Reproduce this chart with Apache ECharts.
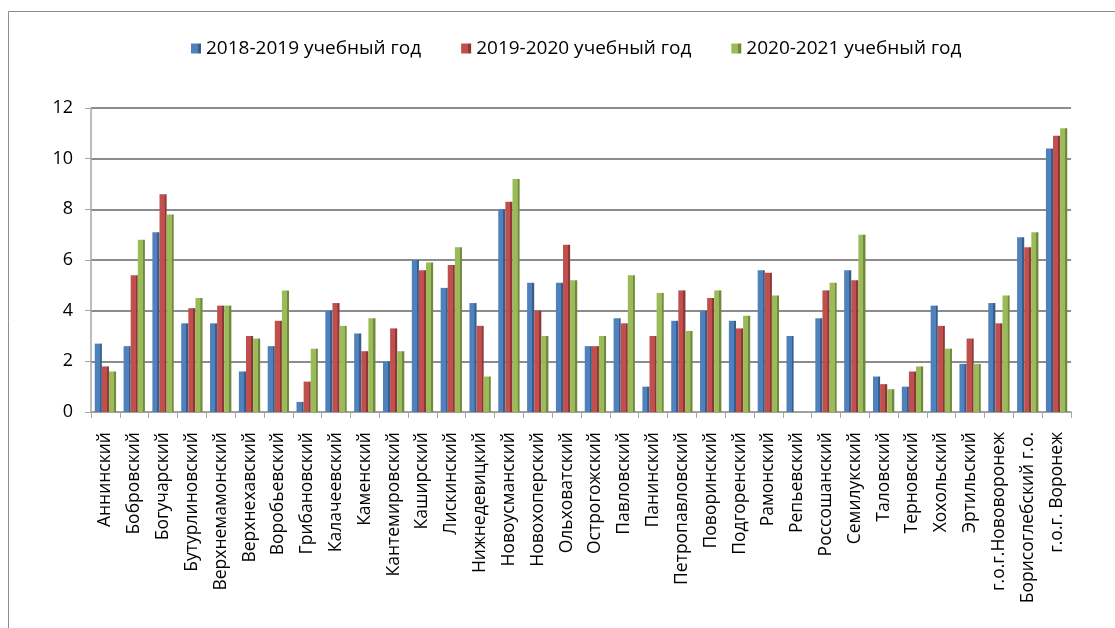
<!DOCTYPE html>
<html>
<head>
<meta charset="utf-8">
<script src="https://cdn.jsdelivr.net/npm/echarts@6/dist/echarts.min.js"></script>
<style>
  html, body { margin: 0; padding: 0; background: #fff; }
  #chart { width: 1115px; height: 628px; }
</style>
</head>
<body>
<div id="chart"></div>
<script>
const districts = [
  "Аннинский", "Бобровский", "Богучарский", "Бутурлиновский", "Верхнемамонский",
  "Верхнехавский", "Воробьевский", "Грибановский", "Калачеевский", "Каменский",
  "Кантемировский", "Каширский", "Лискинский", "Нижнедевицкий", "Новоусманский",
  "Новохоперский", "Ольховатский", "Острогожский", "Павловский", "Панинский",
  "Петропавловский", "Поворинский", "Подгоренский", "Рамонский", "Репьевский",
  "Россошанский", "Семилукский", "Таловский", "Терновский", "Хохольский",
  "Эртильский", "г.о.г.Нововоронеж", "Борисоглебский г.о.", "г.о.г. Воронеж"
];

const year2018 = [2.7, 2.6, 7.1, 3.5, 3.5, 1.6, 2.6, 0.4, 4.0, 3.1, 2.0, 6.0, 4.9, 4.3, 8.0, 5.1, 5.1,
  2.6, 3.7, 1.0, 3.6, 4.0, 3.6, 5.6, 3.0, 3.7, 5.6, 1.4, 1.0, 4.2, 1.9, 4.3, 6.9, 10.4];
const year2019 = [1.8, 5.4, 8.6, 4.1, 4.2, 3.0, 3.6, 1.2, 4.3, 2.4, 3.3, 5.6, 5.8, 3.4, 8.3, 4.0, 6.6,
  2.6, 3.5, 3.0, 4.8, 4.5, 3.3, 5.5, 0, 4.8, 5.2, 1.1, 1.6, 3.4, 2.9, 3.5, 6.5, 10.9];
const year2020 = [1.6, 6.8, 7.8, 4.5, 4.2, 2.9, 4.8, 2.5, 3.4, 3.7, 2.4, 5.9, 6.5, 1.4, 9.2, 3.0, 5.2,
  3.0, 5.4, 4.7, 3.2, 4.8, 3.8, 4.6, 0, 5.1, 7.0, 0.9, 1.8, 2.5, 1.9, 4.6, 7.1, 11.2];

const seriesNames = ["2018-2019 учебный год", "2019-2020 учебный год", "2020-2021 учебный год"];
const colors = ["#4F81BD", "#C0504D", "#9BBB59"];
const edgeColors = ["#385D8A", "#8C3836", "#71893F"];

const font = "'Open Sans', 'Noto Sans', sans-serif";

const chart = echarts.init(document.getElementById("chart"));

function makeSeries(name, data, i) {
  return {
    name: name,
    type: "bar",
    data: data,
    barGap: "0%",
    barCategoryGap: "26%",
    itemStyle: {
      color: new echarts.graphic.LinearGradient(0, 0, 1, 0, [
        { offset: 0, color: colors[i] },
        { offset: 0.7, color: colors[i] },
        { offset: 0.72, color: edgeColors[i] },
        { offset: 1, color: edgeColors[i] }
      ])
    }
  };
}

chart.setOption({
  animation: false,
  color: colors,
  textStyle: { fontFamily: font },
  graphic: [
    {
      type: "rect",
      shape: { x: 8.5, y: 11.5, width: 1300, height: 800 },
      style: { fill: "none", stroke: "#8c8c8c", lineWidth: 1 },
      silent: true,
      z: -1
    }
  ],
  legend: {
    top: 34,
    left: 186,
    itemWidth: 10,
    itemHeight: 10,
    itemGap: 40,
    icon: "rect",
    textStyle: { fontSize: 19, color: "#000", fontFamily: font },
    data: seriesNames
  },
  grid: {
    left: 91,
    right: 44,
    top: 108,
    bottom: 216,
    containLabel: false
  },
  xAxis: {
    type: "category",
    data: districts,
    axisLine: { lineStyle: { color: "#a6a6a6", width: 1.5 } },
    axisTick: { show: true, length: 6, lineStyle: { color: "#a6a6a6" } },
    axisLabel: {
      rotate: 90,
      interval: 0,
      margin: 20,
      fontSize: 17.5,
      color: "#000",
      fontFamily: font
    }
  },
  yAxis: {
    type: "value",
    min: 0,
    max: 12,
    interval: 2,
    axisLine: { show: true, lineStyle: { color: "#a6a6a6", width: 1.5 } },
    axisTick: { show: true, length: 6, lineStyle: { color: "#a6a6a6" } },
    axisLabel: { fontSize: 18, color: "#000", margin: 18, fontFamily: font },
    splitLine: { lineStyle: { color: "#8c8c8c", width: 2 } }
  },
  series: [
    makeSeries(seriesNames[0], year2018, 0),
    makeSeries(seriesNames[1], year2019, 1),
    makeSeries(seriesNames[2], year2020, 2)
  ]
});
</script>
</body>
</html>
